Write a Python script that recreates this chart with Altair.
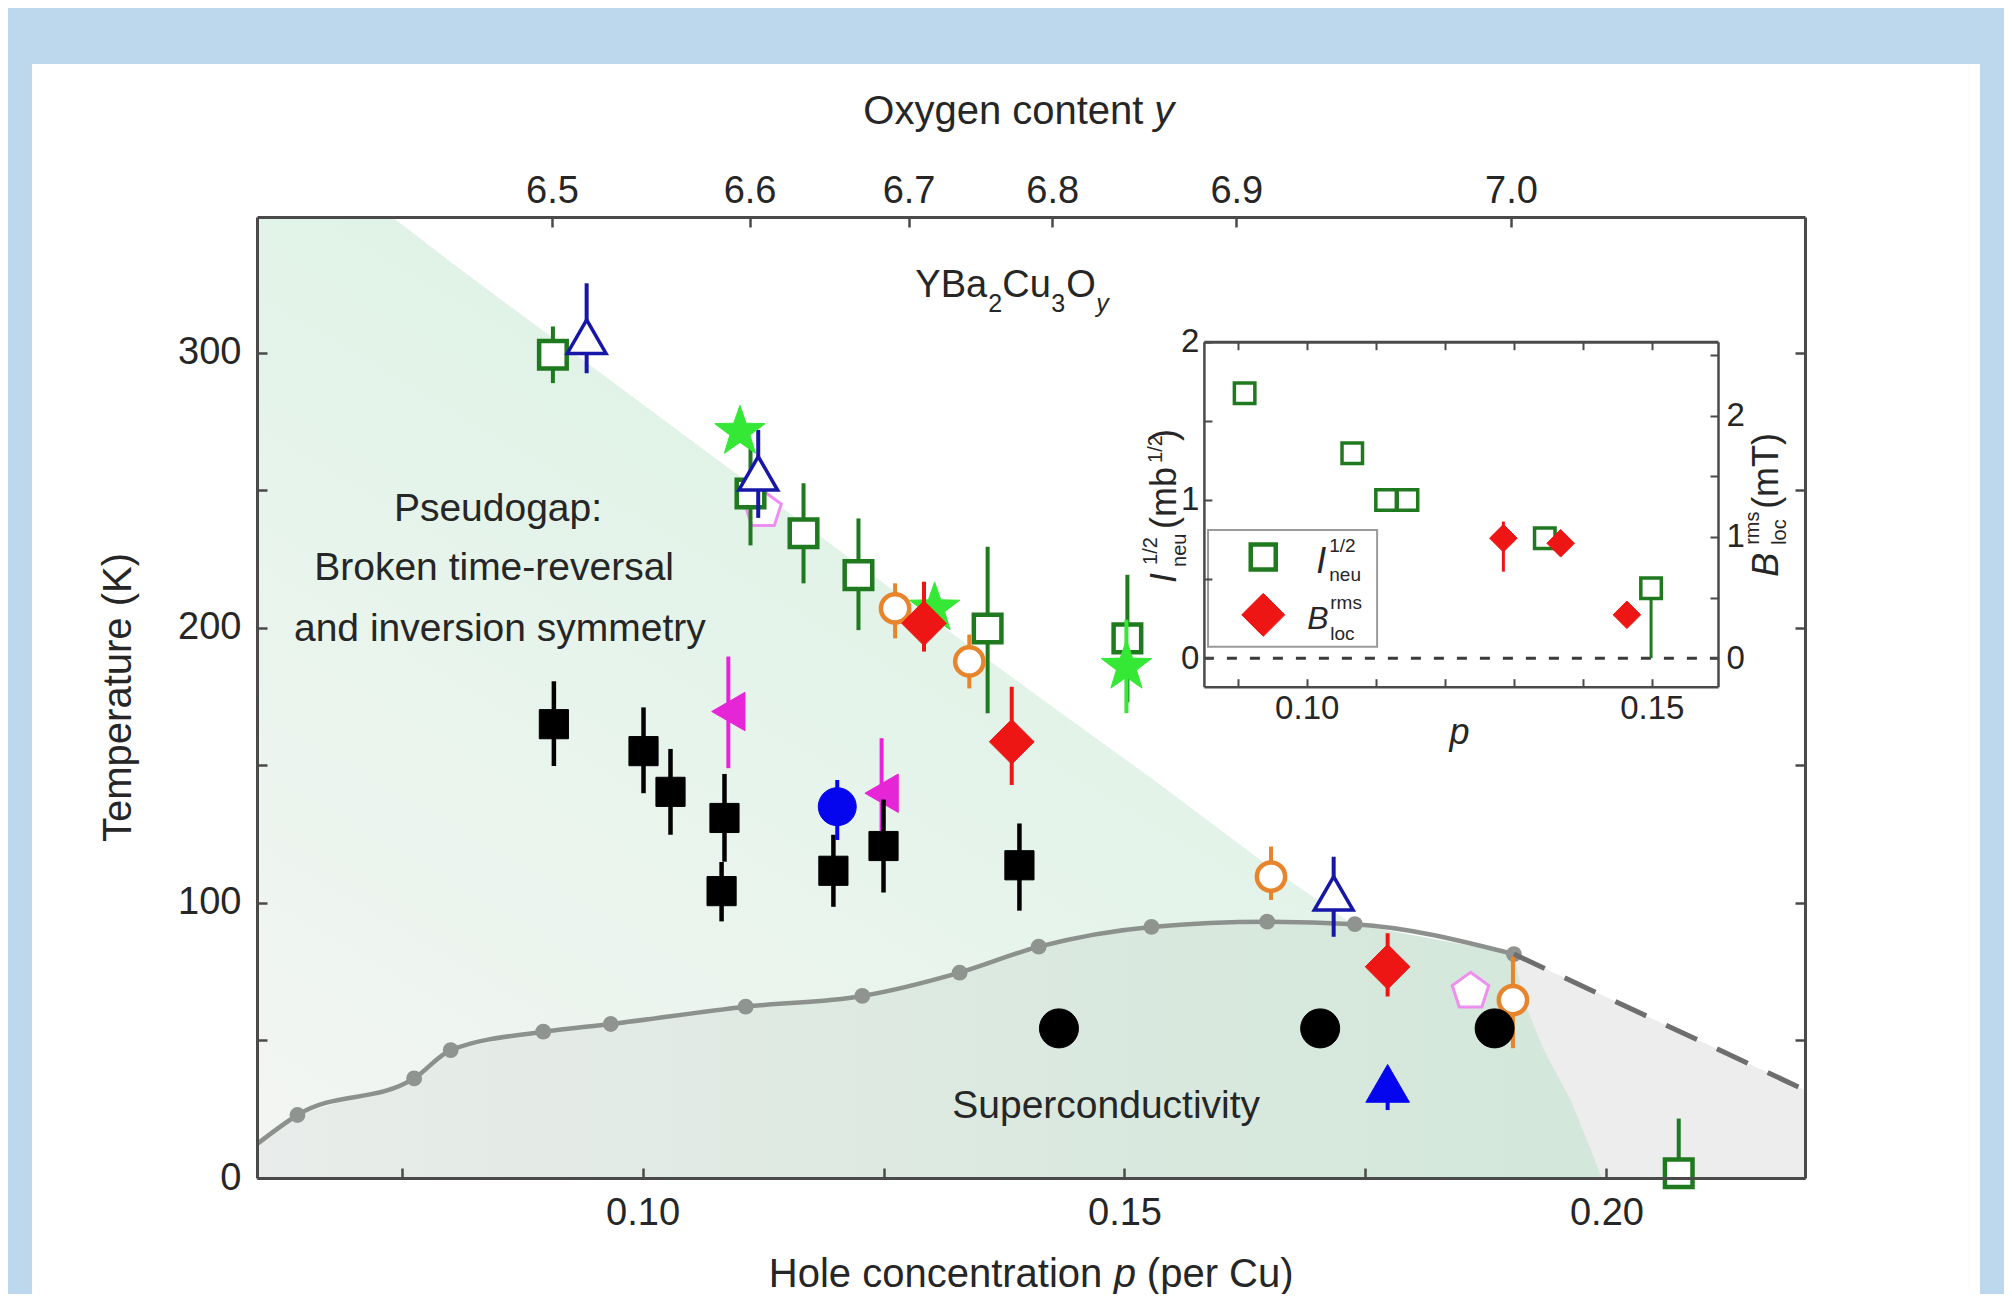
import altair as alt
import pandas as pd

FONT = "Liberation Sans"
INK = "#262626"
FRAME = "#4a4a4a"
W, H = 1548, 961

# ---------------- main axes ----------------
X_DOMAIN = [0.06, 0.2206]
Y_DOMAIN = [0.0, 349.4]
X_TICKS = [0.075, 0.10, 0.125, 0.15, 0.175, 0.20]
X_LABELED = [0.10, 0.15, 0.20]
Y_TICKS = [0, 50, 100, 150, 200, 250, 300]
Y_LABELED = [0, 100, 200, 300]
OXY_P = [0.0906, 0.1111, 0.1276, 0.1425, 0.1616, 0.1901]
OXY_LABELS = ["6.5", "6.6", "6.7", "6.8", "6.9", "7.0"]

# ---------------- Tc dome ----------------
TC_P = [0.0601, 0.0642, 0.0763, 0.0801, 0.0897, 0.0967, 0.1107, 0.1228, 0.1329, 0.1411, 0.1528, 0.1648, 0.1739, 0.1904]
TC_T = [12.6, 22.9, 36.2, 46.5, 53.2, 56.0, 62.3, 66.2, 74.7, 84.1, 91.3, 93.2, 92.3, 81.4]
TC_DOT_P = [0.0642, 0.0763, 0.0801, 0.0897, 0.0967, 0.1107, 0.1228, 0.1329, 0.1411, 0.1528, 0.1648, 0.1739, 0.1904]
TC_DOT_T = [22.9, 36.2, 46.5, 53.2, 56.0, 62.3, 66.2, 74.7, 84.1, 91.3, 93.2, 92.3, 81.4]
DASH_P = [0.1904, 0.2206]
DASH_T = [81.4, 32.0]

# ---------------- shaded regions (outlines) ----------------
GREY_P = TC_P + [0.2206]
GREY_T = TC_T + [32.0]
SC_P = TC_P + [0.1914, 0.1935, 0.1963, 0.1984, 0.1995]
SC_T = TC_T + [64.7, 46.6, 28.3, 10.2, 0.0]
PG_P = [0.0601, 0.0642, 0.0740, 0.0763, 0.0801, 0.0897, 0.0967, 0.1107, 0.1228, 0.1329, 0.1411, 0.1528, 0.1648, 0.1736]
PG_LOW = [12.6, 22.9, 33.5, 36.2, 46.5, 53.2, 56.0, 62.3, 66.2, 74.7, 84.1, 91.3, 93.2, 92.4]
PG_HIGH = [349.4, 349.4, 349.4, 343.3, 333.0, 308.0, 290.0, 253.5, 222.0, 196.0, 175.0, 145.3, 113.8, 92.4]

# ---------------- data series ----------------
GSQ_P = [0.0907, 0.1112, 0.1167, 0.1224, 0.1358, 0.1503, 0.2075]
GSQ_T = [299.3, 248.9, 234.4, 219.2, 199.8, 196.2, 1.7]
GSQ_LO = [289.0, 230.0, 216.2, 199.2, 169.0, 173.0, 0.0]
GSQ_HI = [309.6, 266.0, 252.6, 239.8, 229.5, 219.3, 21.6]

NTRI_P = [0.0942, 0.1120, 0.1717]
NTRI_T = [305.9, 256.2, 103.5]
NTRI_LO = [292.6, 240.0, 87.7]
NTRI_HI = [325.3, 272.0, 116.8]

FTRI_P = [0.1773]
FTRI_T = [34.4]
FTRI_LO = [24.7]
FTRI_HI = [40.0]

BCIR_P = [0.1202]
BCIR_T = [135.0]
BCIR_LO = [122.9]
BCIR_HI = [144.7]

STAR_P = [0.1101, 0.1303, 0.1502]
STAR_T = [271.3, 207.1, 185.9]
STAR_ERR_P = [0.1502]
STAR_LO = [169.0]
STAR_HI = [203.0]

MAG_P = [0.1089, 0.1248]
MAG_T = [169.6, 139.9]
MAG_LO = [149.0, 119.0]
MAG_HI = [189.6, 159.9]

BSQ_P = [0.0908, 0.1001, 0.1029, 0.1085, 0.1082, 0.1198, 0.1250, 0.1391]
BSQ_T = [165.0, 155.2, 140.4, 130.9, 104.3, 111.7, 120.7, 113.7]
BSQ_LO = [149.8, 139.9, 124.8, 115.0, 93.3, 98.6, 103.8, 97.2]
BSQ_HI = [180.6, 171.1, 156.0, 146.9, 114.9, 124.8, 137.6, 128.9]

KCIR_P = [0.1432, 0.1703, 0.1884]
KCIR_T = [54.4, 54.4, 54.4]

RED_P = [0.1292, 0.1383, 0.1773]
RED_T = [201.7, 158.6, 76.8]
RED_LO = [191.4, 142.9, 66.0]
RED_HI = [216.8, 178.6, 89.0]

ORG_P = [0.1262, 0.1339, 0.1652, 0.1903]
ORG_T = [207.1, 187.8, 109.6, 64.7]
ORG_LO = [196.2, 178.0, 101.1, 47.2]
ORG_HI = [216.2, 197.6, 120.5, 80.5]

PENT_P = [0.1125, 0.1859]
PENT_T = [242.9, 67.8]

ANNOT_TEXT = ["Pseudogap:", "Broken time-reversal", "and inversion symmetry", "Superconductivity"]
ANNOT_P = [0.0850, 0.0846, 0.0852, 0.1481]
ANNOT_T = [243.2, 221.8, 199.6, 26.2]
FORMULA_P = 0.1283
FORMULA_T = 320.3
XTITLE_P = 0.1131
XTITLE_T = -39.5
TOPTITLE_P = 0.1229
TOPTITLE_T = 383.2

# ---------------- inset ----------------
INS_X_DOMAIN = [0.0851, 0.1596]
INS_Y_DOMAIN = [-0.18, 2.0]
INS_B_DOMAIN = [-0.235, 2.611]
INS_X_TICKS = [0.09, 0.10, 0.11, 0.12, 0.13, 0.14, 0.15]
INS_X_LABELED = [0.10, 0.15]
INS_Y_TICKS = [0, 0.5, 1, 1.5, 2]
INS_Y_LABELED = [0, 1, 2]
INS_B_TICKS = [0, 0.5, 1, 1.5, 2, 2.5]
INS_B_LABELED = [0, 1, 2]

INS_SQ_P = [0.0910, 0.1066, 0.1115, 0.1146, 0.1345, 0.1499]
INS_SQ_I = [1.674, 1.295, 1.0, 1.0, 0.758, 0.442]
INS_SQ_ERR_P = [0.1499]
INS_SQ_LO = [0.0]
INS_SQ_HI = [0.442]
INS_DM_P = [0.1285, 0.1368, 0.1464]
INS_DM_B = [0.99, 0.948, 0.358]
INS_DM_ERR_P = [0.1285]
INS_DM_LO = [0.714]
INS_DM_HI = [1.127]
INS_ZERO_P = [0.0851]
INS_ZERO_P2 = [0.1596]
LEG_BOX_P = [0.0857]
LEG_BOX_P2 = [0.1102]
LEG_BOX_I = [0.073]
LEG_BOX_I2 = [0.81]
LEG_P = [0.0937]
LEG_SQ_I = [0.64]
LEG_DM_I = [0.274]
INS_LTITLE = (0.0811, 0.476)
INS_RTITLE = (0.1683, 0.514)

# pixel placement of the inset inside the main plot area
INS_X_RANGE = [946.9, 1461.0]
INS_Y_RANGE = [469.7, 124.7]

GREEN_DK = "#1f7a1f"
STAR_GREEN = "#35e835"
NAVY = "#1616a8"
BLUE = "#0606ee"
MAGENTA = "#e626d6"
RED = "#ee1515"
ORANGE = "#e8842c"
VIOLET = "#ee8ef0"
TC_GREY = "#8c918e"

STAR = "M0,-1L0.235,-0.324L0.951,-0.309L0.38,0.124L0.588,0.809L0,0.4L-0.588,0.809L-0.38,0.124L-0.951,-0.309L-0.235,-0.324Z"
PENT = "M0,-1L0.951,-0.309L0.588,0.809L-0.588,0.809L-0.951,-0.309Z"


def mx():
    return alt.Scale(domain=X_DOMAIN, nice=False, zero=False)


def my():
    return alt.Scale(domain=Y_DOMAIN, nice=False, zero=False)


def ix():
    return alt.Scale(domain=INS_X_DOMAIN, range=INS_X_RANGE, nice=False, zero=False)


def iy():
    return alt.Scale(domain=INS_Y_DOMAIN, range=INS_Y_RANGE, nice=False, zero=False)


def ib():
    return alt.Scale(domain=INS_B_DOMAIN, range=INS_Y_RANGE, nice=False, zero=False)


def enc(xs, ys, xf="p", yf="v"):
    return dict(x=alt.X(f"{xf}:Q", scale=xs(), axis=None),
                y=alt.Y(f"{yf}:Q", scale=ys(), axis=None))


def markers(p, v, shape, size, fill, stroke, sw, xs=mx, ys=my):
    df = pd.DataFrame({"p": p, "v": v})
    return alt.Chart(df).mark_point(shape=shape, size=size, filled=True, fill=fill,
                                    stroke=stroke, strokeWidth=sw, opacity=1).encode(**enc(xs, ys))


def errbars(p, lo, hi, color, sw=4.0, xs=mx, ys=my):
    df = pd.DataFrame({"p": p, "lo": lo, "hi": hi})
    return alt.Chart(df).mark_rule(color=color, strokeWidth=sw).encode(
        x=alt.X("p:Q", scale=xs(), axis=None),
        y=alt.Y("lo:Q", scale=ys(), axis=None), y2="hi:Q")


def rich(ap, av, pieces, xs, ys, angle=0):
    out = []
    for txt, dx, dy, size, style in pieces:
        df = pd.DataFrame({"p": [ap], "v": [av], "t": [txt]})
        out.append(alt.Chart(df).mark_text(align="left", baseline="alphabetic", dx=dx, dy=dy,
                                           angle=angle, font=FONT, fontSize=size, fontStyle=style,
                                           color=INK).encode(text="t:N", **enc(xs, ys)))
    return out


AX = dict(grid=False, zindex=2, labelFont=FONT, titleFont=FONT, labelColor=INK, titleColor=INK,
          domainColor=FRAME, tickColor=FRAME, labelFlush=False, labelOverlap=False,
          titleFontWeight="normal")


def tick_axis(orient, offset, values, size=10, width=2.5, domain=False):
    return alt.Axis(orient=orient, offset=offset, values=values, labels=False, domain=domain,
                    domainWidth=3, ticks=True, tickSize=size, tickWidth=width, title=None, **AX)


def carrier(xs, ys, xaxis=None, yaxis=None, xv=0.1, yv=1.0):
    df = pd.DataFrame({"a": [xv], "b": [yv]})
    return alt.Chart(df).mark_point(opacity=0).encode(
        x=alt.X("a:Q", scale=xs(), axis=xaxis), y=alt.Y("b:Q", scale=ys(), axis=yaxis))


def oxy_expr():
    expr = f"'{OXY_LABELS[-1]}'"
    for i in range(len(OXY_P) - 2, -1, -1):
        mid = (OXY_P[i] + OXY_P[i + 1]) / 2
        expr = f"datum.value < {mid:.5f} ? '{OXY_LABELS[i]}' : ({expr})"
    return expr


layers = []

# white panel of the figure
layers.append(alt.Chart(pd.DataFrame({"k": [0]})).mark_rect(color="white").encode(
    x=alt.value(-225), x2=alt.value(1723), y=alt.value(-153), y2=alt.value(1200)))

# shaded regions
layers.append(alt.Chart(pd.DataFrame({"p": GREY_P, "v": GREY_T})).mark_area(
    color="#ededed", opacity=1).encode(**enc(mx, my)))
layers.append(alt.Chart(pd.DataFrame({"p": SC_P, "v": SC_T})).mark_area(
    opacity=1,
    color=alt.LinearGradient(gradient="linear", x1=0, y1=0.5, x2=1, y2=0.5,
                             stops=[alt.GradientStop(offset=0, color="#e9ecea"),
                                    alt.GradientStop(offset=0.55, color="#dbe9e0"),
                                    alt.GradientStop(offset=1, color="#d3e7da")])).encode(**enc(mx, my)))
layers.append(alt.Chart(pd.DataFrame({"p": PG_P, "hi": PG_HIGH, "lo": PG_LOW})).mark_area(
    opacity=1,
    color=alt.LinearGradient(gradient="linear", x1=0, y1=1, x2=0.7, y2=0,
                             stops=[alt.GradientStop(offset=0, color="#f3f5f3"),
                                    alt.GradientStop(offset=0.5, color="#e6f4eb"),
                                    alt.GradientStop(offset=1, color="#daf0e2")])).encode(
    x=alt.X("p:Q", scale=mx(), axis=None), y=alt.Y("hi:Q", scale=my(), axis=None), y2="lo:Q"))

# Tc line, dots and dashed continuation
layers.append(alt.Chart(pd.DataFrame({"p": TC_P, "v": TC_T})).mark_line(
    color=TC_GREY, strokeWidth=4.5, interpolate="monotone").encode(**enc(mx, my)))
layers.append(alt.Chart(pd.DataFrame({"p": TC_DOT_P, "v": TC_DOT_T})).mark_circle(
    size=250, color="#8f9491", opacity=1).encode(**enc(mx, my)))
layers.append(alt.Chart(pd.DataFrame({"p": DASH_P, "v": DASH_T})).mark_line(
    color="#6e6e6e", strokeWidth=5, strokeDash=[34, 22]).encode(**enc(mx, my)))

# annotations
layers.append(alt.Chart(pd.DataFrame({"p": ANNOT_P, "v": ANNOT_T, "t": ANNOT_TEXT})).mark_text(
    font=FONT, fontSize=39, color=INK, align="center", baseline="middle").encode(text="t:N", **enc(mx, my)))
layers += rich(FORMULA_P, FORMULA_T, [("YBa", 0, 0, 38, "normal"), ("2", 73, 15, 25, "normal"),
                                      ("Cu", 87, 0, 38, "normal"), ("3", 136, 15, 25, "normal"),
                                      ("O", 151, 0, 38, "normal"), ("y", 181, 15, 25, "italic")], mx, my)
# axis titles with italic symbols
layers += rich(XTITLE_P, XTITLE_T, [("Hole concentration", 0, 0, 40, "normal"), ("p", 345, 0, 40, "italic"),
                                    ("(per Cu)", 378, 0, 40, "normal")], mx, my)
layers += rich(TOPTITLE_P, TOPTITLE_T, [("Oxygen content", 0, 0, 40, "normal"), ("y", 291, 0, 40, "italic")],
               mx, my)

# data points
layers.append(markers(PENT_P, PENT_T, PENT, 1480, "white", VIOLET, 3))
layers.append(errbars(GSQ_P, GSQ_LO, GSQ_HI, GREEN_DK, 4))
layers.append(markers(GSQ_P, GSQ_T, "square", 760, "white", GREEN_DK, 4.5))
layers.append(errbars(NTRI_P, NTRI_LO, NTRI_HI, NAVY, 4))
layers.append(markers(NTRI_P, NTRI_T, "triangle-up", 1500, "white", NAVY, 3.5))
layers.append(errbars(STAR_ERR_P, STAR_LO, STAR_HI, STAR_GREEN, 4))
layers.append(markers(STAR_P, STAR_T, STAR, 2800, STAR_GREEN, STAR_GREEN, 1))
layers.append(errbars(ORG_P, ORG_LO, ORG_HI, ORANGE, 4))
layers.append(markers(ORG_P, ORG_T, "circle", 800, "white", ORANGE, 4.5))
layers.append(errbars(RED_P, RED_LO, RED_HI, RED, 4))
layers.append(markers(RED_P, RED_T, "diamond", 2000, RED, RED, 1))
layers.append(errbars(MAG_P, MAG_LO, MAG_HI, MAGENTA, 4))
layers.append(markers(MAG_P, MAG_T, "triangle-left", 1480, MAGENTA, MAGENTA, 1))
layers.append(errbars(BSQ_P, BSQ_LO, BSQ_HI, "black", 4.5))
layers.append(markers(BSQ_P, BSQ_T, "square", 850, "black", "black", 1))
layers.append(errbars(BCIR_P, BCIR_LO, BCIR_HI, BLUE, 4))
layers.append(markers(BCIR_P, BCIR_T, "circle", 1444, BLUE, BLUE, 1))
layers.append(markers(KCIR_P, KCIR_T, "circle", 1521, "black", "black", 1))
layers.append(errbars(FTRI_P, FTRI_LO, FTRI_HI, BLUE, 4))
layers.append(markers(FTRI_P, FTRI_T, "triangle-up", 1900, BLUE, BLUE, 1))

# ---------------- inset ----------------
layers.append(alt.Chart(pd.DataFrame({"p": INS_ZERO_P, "p2": INS_ZERO_P2, "v": [0.0]})).mark_rule(
    color="#3a3a3a", strokeWidth=3, strokeDash=[10, 13]).encode(
    x=alt.X("p:Q", scale=ix(), axis=None), x2="p2:Q", y=alt.Y("v:Q", scale=iy(), axis=None)))
layers.append(errbars(INS_SQ_ERR_P, INS_SQ_LO, INS_SQ_HI, GREEN_DK, 3, ix, iy))
layers.append(markers(INS_SQ_P, INS_SQ_I, "square", 420, "white", GREEN_DK, 3.5, ix, iy))
layers.append(errbars(INS_DM_ERR_P, INS_DM_LO, INS_DM_HI, RED, 3, ix, ib))
layers.append(markers(INS_DM_P, INS_DM_B, "diamond", 760, RED, RED, 1, ix, ib))

# inset legend
layers.append(alt.Chart(pd.DataFrame({"p": LEG_BOX_P, "p2": LEG_BOX_P2, "v": LEG_BOX_I, "v2": LEG_BOX_I2})).mark_rect(
    fill="white", stroke="#9a9a9a", strokeWidth=2).encode(
    x=alt.X("p:Q", scale=ix(), axis=None), x2="p2:Q",
    y=alt.Y("v:Q", scale=iy(), axis=None), y2="v2:Q"))
layers.append(markers(LEG_P, LEG_SQ_I, "square", 625, "white", GREEN_DK, 4.5, ix, iy))
layers.append(markers(LEG_P, LEG_DM_I, "diamond", 1850, RED, RED, 1, ix, iy))
layers += rich(LEG_P[0], LEG_SQ_I[0], [("I", 53, 16, 36, "italic"), ("1/2", 66, -5, 19, "normal"),
                                       ("neu", 66, 24, 19, "normal")], ix, iy)
layers += rich(LEG_P[0], LEG_DM_I[0], [("B", 44, 14, 32, "italic"), ("rms", 67, -6, 19, "normal"),
                                       ("loc", 67, 25, 19, "normal")], ix, iy)
# inset axis titles (rotated)
layers += rich(INS_LTITLE[0], INS_LTITLE[1], [("I", 0, 0, 36, "italic"), ("1/2", 18, -19, 20, "normal"),
                                              ("neu", 16, 10, 20, "normal"), ("(mb", 54, 0, 36, "normal"),
                                              ("1/2", 120, -14, 20, "normal"), (")", 142, 0, 36, "normal")],
               ix, iy, angle=270)
layers += rich(INS_RTITLE[0], INS_RTITLE[1], [("B", 0, 0, 36, "italic"), ("rms", 32, -19, 20, "normal"),
                                              ("loc", 32, 8, 20, "normal"), ("(mT)", 68, 0, 36, "normal")],
               ix, iy, angle=270)

# ---------------- axes ----------------
layers.append(carrier(
    mx, my,
    xaxis=alt.Axis(orient="bottom", values=X_LABELED, format=".2f", ticks=False, tickSize=0,
                   domain=True, domainWidth=3, labelFontSize=38, labelPadding=16, title=None, **AX),
    yaxis=alt.Axis(orient="left", values=Y_LABELED, format="d", ticks=False, tickSize=0,
                   domain=True, domainWidth=3, labelFontSize=38, labelPadding=16,
                   title="Temperature (K)", titleFontSize=40, titleX=-139, titleY=480,
                   titleBaseline="middle", titleAlign="center", titleAngle=270, **AX),
    xv=0.1, yv=100))
layers.append(carrier(mx, my, xaxis=tick_axis("top", -H, X_TICKS),
                      yaxis=tick_axis("right", -W, Y_TICKS), xv=0.1, yv=100))
layers.append(carrier(
    mx, my,
    xaxis=alt.Axis(orient="top", values=OXY_P, labelExpr=oxy_expr(), ticks=False, tickSize=0,
                   domain=True, domainWidth=3, labelFontSize=38, labelPadding=7, title=None, **AX),
    yaxis=tick_axis("left", -W, Y_TICKS, domain=True), xv=0.1, yv=100))
layers.append(carrier(mx, my, xaxis=tick_axis("bottom", -H, OXY_P), xv=0.1, yv=100))

IB = INS_Y_RANGE[0]
IT = INS_Y_RANGE[1]
IL = INS_X_RANGE[0]
IR = INS_X_RANGE[1]
layers.append(carrier(
    ix, iy,
    xaxis=alt.Axis(orient="bottom", offset=IB - H, values=INS_X_LABELED, format=".2f", ticks=False,
                   tickSize=0, domain=True, domainWidth=2.5, labelFontSize=33, labelPadding=6,
                   title="p", titleFontSize=36, titleFontStyle="italic", titleX=1202, titleY=46,
                   titleBaseline="middle", titleAlign="center", **AX),
    yaxis=alt.Axis(orient="left", offset=-IL, values=INS_Y_LABELED, format="d", ticks=False,
                   tickSize=0, domain=True, domainWidth=2.5, labelFontSize=33, labelPadding=5,
                   title=None, **AX),
    xv=0.12, yv=1.0))
layers.append(carrier(ix, iy, xaxis=tick_axis("top", -IB, INS_X_TICKS, size=8, width=2),
                      yaxis=tick_axis("right", IL - W, INS_Y_TICKS, size=8, width=2), xv=0.12, yv=1.0))
layers.append(carrier(
    ix, ib,
    xaxis=tick_axis("bottom", IT - H, INS_X_TICKS, size=8, width=2, domain=True),
    yaxis=alt.Axis(orient="right", offset=IR - W, values=INS_B_LABELED, format="d", ticks=False,
                   tickSize=0, domain=True, domainWidth=2.5, labelFontSize=33, labelPadding=8,
                   title=None, **AX),
    xv=0.12, yv=1.0))
layers.append(carrier(ix, ib, yaxis=tick_axis("left", -IR, INS_B_TICKS, size=8, width=2), xv=0.12, yv=1.0))

chart = alt.layer(*layers).resolve_scale(x="independent", y="independent").resolve_axis(
    x="independent", y="independent").properties(
    width=W, height=H,
    padding={"left": 249, "top": 209, "right": 199, "bottom": 116},
    autosize=alt.AutoSizeParams(type="none"),
    background="#bdd7ed",
).configure_view(stroke=None)

chart.save("out.html", embed_options={"renderer": "svg", "actions": False})
